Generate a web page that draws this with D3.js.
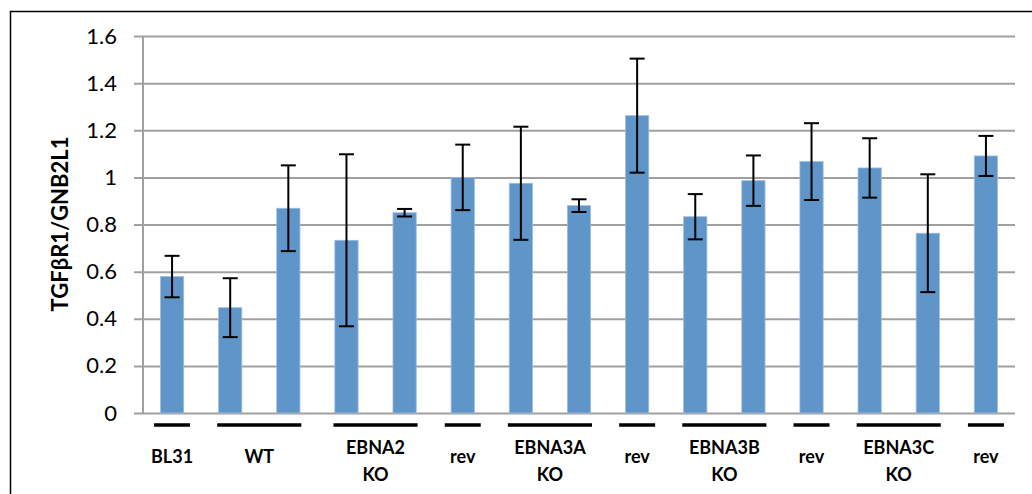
<!DOCTYPE html>
<html>
<head>
<meta charset="utf-8">
<script src="https://cdn.jsdelivr.net/npm/d3@7"></script>
<style>
  body { margin: 0; background: #fff; }
  text { font-family: Lato, "Open Sans", sans-serif; }
</style>
</head>
<body>
<svg id="chart" width="1032" height="494"></svg>
<script>
// values
var values = [0.579, 0.447, 0.869, 0.733, 0.850, 1.000, 0.975, 0.880, 1.262, 0.833, 0.986, 1.067, 1.040, 0.763, 1.091];
var errors = [0.088, 0.125, 0.182, 0.365, 0.016, 0.139, 0.240, 0.027, 0.242, 0.096, 0.107, 0.163, 0.126, 0.250, 0.085];
var yTicks = [0, 0.2, 0.4, 0.6, 0.8, 1, 1.2, 1.4, 1.6];

// groups under the axis: first bar, last bar, label lines
var groupStart = [0, 1, 3, 5, 6, 8, 9, 11, 12, 14];
var groupEnd   = [0, 2, 4, 5, 7, 8, 10, 11, 13, 14];
var groupLabels = [["BL31"], ["WT"], ["EBNA2", "KO"], ["rev"], ["EBNA3A", "KO"], ["rev"], ["EBNA3B", "KO"], ["rev"], ["EBNA3C", "KO"], ["rev"]];

var svg = d3.select("#chart");
var pLeft = 143, pRight = 1015, pTop = 36, pBottom = 413;

// outer frame (only top and left visible)
svg.append("rect")
    .attr("x", 10.5).attr("y", 11.5)
    .attr("width", 1040).attr("height", 500)
    .attr("fill", "none")
    .attr("stroke", "#000")
    .attr("stroke-width", 1.5);

var x = d3.scaleBand()
    .domain(d3.range(values.length))
    .range([pLeft, pRight])
    .paddingInner(0.6)
    .paddingOuter(0.3);

var y = d3.scaleLinear().domain([0, 1.6]).range([pBottom, pTop]);

// gridlines + ticks
svg.append("g")
    .attr("transform", "translate(" + pLeft + ",0)")
    .call(d3.axisLeft(y).tickValues(yTicks).tickSize(-(pRight - pLeft)).tickSizeOuter(0).tickPadding(18).tickFormat(d3.format("")))
    .call(function(g) {
        g.select(".domain").remove();
        g.selectAll(".tick line")
            .attr("x1", -9)
            .attr("stroke", "#a0a0a0")
            .attr("stroke-width", 2);
        g.selectAll(".tick text")
            .attr("x", -26)
            .attr("font-size", 22)
            .attr("fill", "#000")
            .style("font-family", "Lato, 'Open Sans', sans-serif");
    });

// y axis line
svg.append("line")
    .attr("x1", pLeft).attr("x2", pLeft)
    .attr("y1", pTop).attr("y2", pBottom + 1)
    .attr("stroke", "#a0a0a0")
    .attr("stroke-width", 2);

// bars
svg.append("g")
    .selectAll("rect")
    .data(values)
    .join("rect")
    .attr("x", (d, i) => x(i))
    .attr("y", d => y(d))
    .attr("width", x.bandwidth())
    .attr("height", d => y(0) - y(d))
    .attr("fill", "#6095c9")
    .attr("stroke", "#9dbde0")
    .attr("stroke-width", 0.8);

// error bars
var eb = svg.append("g")
    .selectAll("g")
    .data(values)
    .join("g")
    .attr("stroke", "#000")
    .attr("stroke-width", 2);

var cx = i => x(i) + x.bandwidth() / 2;

eb.append("line")
    .attr("x1", (d, i) => cx(i)).attr("x2", (d, i) => cx(i))
    .attr("y1", (d, i) => y(d + errors[i]))
    .attr("y2", (d, i) => y(d - errors[i]));
eb.append("line")
    .attr("x1", (d, i) => cx(i) - 7.5).attr("x2", (d, i) => cx(i) + 7.5)
    .attr("y1", (d, i) => y(d + errors[i]))
    .attr("y2", (d, i) => y(d + errors[i]));
eb.append("line")
    .attr("x1", (d, i) => cx(i) - 7.5).attr("x2", (d, i) => cx(i) + 7.5)
    .attr("y1", (d, i) => y(d - errors[i]))
    .attr("y2", (d, i) => y(d - errors[i]));

// group underlines and labels
var grp = svg.append("g")
    .selectAll("g")
    .data(groupLabels)
    .join("g");

function gx0(i) { return groupStart[i] === groupEnd[i] ? cx(groupStart[i]) - 18 : cx(groupStart[i]) - 13; }
function gx1(i) { return groupStart[i] === groupEnd[i] ? cx(groupEnd[i]) + 18 : cx(groupEnd[i]) + 13; }

grp.append("line")
    .attr("x1", (d, i) => gx0(i))
    .attr("x2", (d, i) => gx1(i))
    .attr("y1", 425).attr("y2", 425)
    .attr("stroke", "#000")
    .attr("stroke-width", 3.5);

grp.append("text")
    .attr("text-anchor", "middle")
    .attr("font-size", 18)
    .attr("font-weight", "bold")
    .attr("x", (d, i) => (gx0(i) + gx1(i)) / 2)
    .attr("y", d => d.length > 1 ? 454 : 463)
    .selectAll("tspan")
    .data(d => d)
    .join("tspan")
    .attr("x", function() { return d3.select(this.parentNode).attr("x"); })
    .attr("dy", (d, i) => i === 0 ? 0 : 27)
    .text(d => d);

// y axis title
svg.append("text")
    .attr("transform", "translate(68,224) rotate(-90)")
    .attr("text-anchor", "middle")
    .attr("font-size", 22)
    .attr("font-weight", "bold")
    .text("TGFβR1/GNB2L1");
</script>
</body>
</html>
